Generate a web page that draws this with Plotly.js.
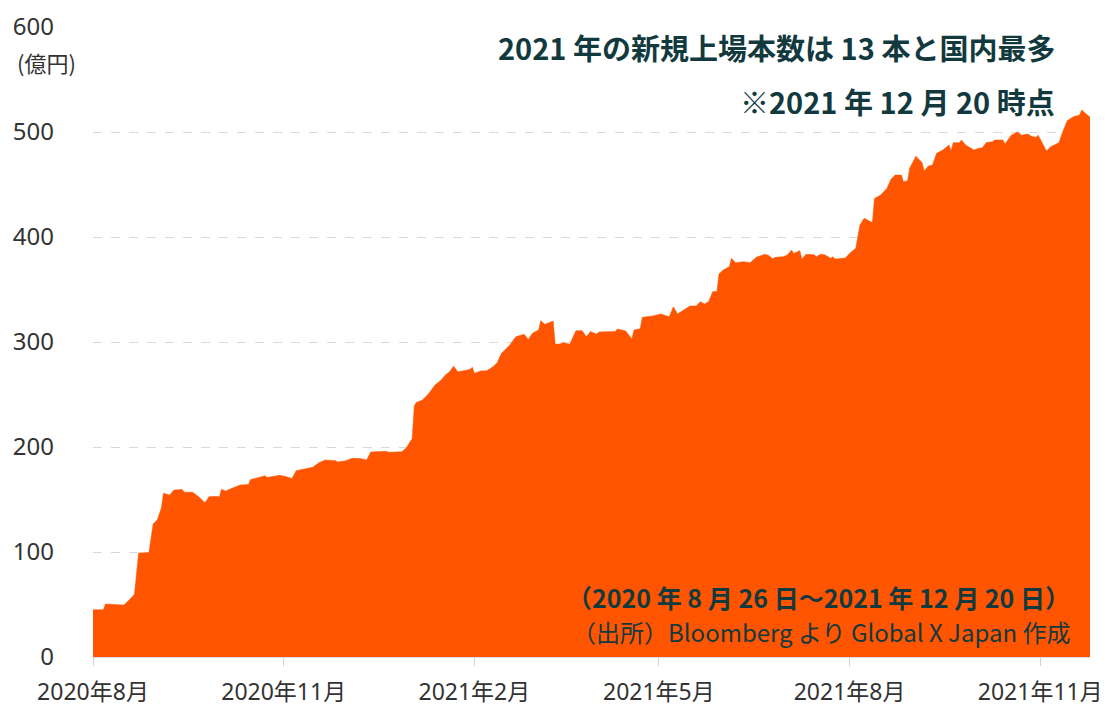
<!DOCTYPE html>
<html>
<head>
<meta charset="utf-8">
<script src="https://cdn.plot.ly/plotly-3.0.1.min.js"></script>
<style>
html,body{margin:0;padding:0;background:#fff;}
#chart{width:1110px;height:708px;}
</style>
</head>
<body>
<div id="chart"></div>
<script>
// 日付（2020年8月26日～2021年12月20日）
var dates = [
 '2020-08-26','2020-08-31','2020-09-01','2020-09-10','2020-09-14','2020-09-15','2020-09-17','2020-09-22',
 '2020-09-24','2020-09-26','2020-09-28','2020-09-29','2020-10-02','2020-10-04','2020-10-08','2020-10-09',
 '2020-10-13','2020-10-16','2020-10-19','2020-10-21','2020-10-24','2020-10-26','2020-10-27','2020-10-29',
 '2020-11-01','2020-11-05','2020-11-09','2020-11-10','2020-11-14','2020-11-17','2020-11-18','2020-11-24',
 '2020-11-27','2020-11-30','2020-12-02','2020-12-05','2020-12-09','2020-12-10','2020-12-13','2020-12-16',
 '2020-12-21','2020-12-22','2020-12-26','2020-12-29','2021-01-02','2021-01-05','2021-01-07','2021-01-14',
 '2021-01-16','2021-01-22','2021-01-24','2021-01-26','2021-01-27','2021-01-28','2021-01-29','2021-02-01',
 '2021-02-04','2021-02-07','2021-02-10','2021-02-12','2021-02-14','2021-02-16','2021-02-18','2021-02-21',
 '2021-02-24','2021-02-25','2021-02-26','2021-03-01','2021-03-04','2021-03-07','2021-03-09','2021-03-11',
 '2021-03-13','2021-03-15','2021-03-18','2021-03-22','2021-03-24','2021-03-26','2021-03-29','2021-03-30',
 '2021-04-01','2021-04-05','2021-04-06','2021-04-08','2021-04-10','2021-04-13','2021-04-16','2021-04-19',
 '2021-04-21','2021-04-23','2021-04-26','2021-04-27','2021-05-05','2021-05-06','2021-05-10','2021-05-13',
 '2021-05-14','2021-05-17','2021-05-18','2021-05-23','2021-05-27','2021-05-31','2021-06-02','2021-06-04',
 '2021-06-06','2021-06-09','2021-06-10','2021-06-13','2021-06-15','2021-06-17','2021-06-19','2021-06-21',
 '2021-06-23','2021-06-24','2021-06-26','2021-06-29','2021-06-30','2021-07-02','2021-07-06','2021-07-09',
 '2021-07-12','2021-07-16','2021-07-18','2021-07-20','2021-07-21','2021-07-25','2021-07-27','2021-07-29',
 '2021-07-30','2021-08-02','2021-08-03','2021-08-05','2021-08-09','2021-08-10','2021-08-12','2021-08-14',
 '2021-08-17','2021-08-18','2021-08-19','2021-08-24','2021-08-26','2021-08-29','2021-08-31','2021-09-02',
 '2021-09-06','2021-09-07','2021-09-10','2021-09-13','2021-09-15','2021-09-17','2021-09-20','2021-09-21',
 '2021-09-23','2021-09-24','2021-09-27','2021-09-30','2021-10-01','2021-10-03','2021-10-05','2021-10-07',
 '2021-10-10','2021-10-13','2021-10-14','2021-10-15','2021-10-18','2021-10-19','2021-10-21','2021-10-25',
 '2021-10-27','2021-10-29','2021-10-31','2021-11-03','2021-11-04','2021-11-08','2021-11-09','2021-11-12',
 '2021-11-15','2021-11-17','2021-11-20','2021-11-22','2021-11-24','2021-11-25','2021-11-27','2021-11-29',
 '2021-12-01','2021-12-03','2021-12-05','2021-12-07','2021-12-09','2021-12-12','2021-12-15','2021-12-16',
 '2021-12-18','2021-12-20'
];
// 純資産総額（億円）
var netAssets = [
 45,45,50.5,49.5,57.5,60,99,99.5,
 126.7,130.5,142,156,154.3,159,159.5,157,
 157,152.7,147,152.7,153,152.7,159.7,158,
 160.6,163.8,164.4,169,171,172.7,171,173,
 172,170,177.5,178.7,180.7,180.7,185,187.6,
 187,185.7,187,189.2,189,187.6,195.2,195.9,
 195,195.5,198.7,205,208,239.4,242.5,244.8,
 251,259,263.8,268.6,271.7,277,271.7,272.7,
 274,276,270.2,272.4,272.7,276.5,280.3,289,
 293,297,305,307.3,302.5,308.3,311.4,320.3,
 316.8,320,298,298,299.4,297.8,310.8,310.8,
 305,310,307.3,309.5,310,312.4,310.5,302.9,
 311.4,312.7,323.5,324.8,326.7,324,333.6,326.7,
 329.2,333,334.3,334.3,338.4,336.2,338.4,348,
 348,364.8,368.6,371.7,379.7,375.5,376.5,375.5,
 380.6,383.5,382.5,379,380.6,381.3,382.9,387.6,
 384.4,387,379,383.5,383,381.3,383.5,383,
 379.7,381.3,379,380,384.4,389.2,411.4,417.8,
 413.7,436.7,440,446.3,454.9,459,459,452.7,
 453.6,465.4,477,470.8,462.9,467.6,468.6,479.7,
 482.9,487.6,482.2,489.8,489.8,492.4,487.6,482.9,
 484.4,485,490,490.8,492.4,492.4,488.6,497,
 500,497,498,495.6,495,497,489.8,481.9,
 486,487.6,489.8,501,510.8,514.6,516.2,521,
 517.8,514
];
var tickDates = ['2020-08-26','2020-11-26','2021-02-26','2021-05-26','2021-08-26','2021-11-26'];
var tickLabels = ['2020年8月','2020年11月','2021年2月','2021年5月','2021年8月','2021年11月'];
var yTicks = [0,100,200,300,400,500,600];

var titleText = '2021 年の新規上場本数は 13 本と国内最多';
var asOfText = '※2021 年 12 月 20 時点';
var periodText = '（2020 年 8 月 26 日～2021 年 12 月 20 日）';
var sourceText = '（出所）Bloomberg より Global X Japan 作成';
var unitText = '(億円)';

var navy = '#123a3e';
var boldFont = '"Noto Sans CJK JP", "Noto Sans", sans-serif';
var baseFont = '"Noto Sans CJK JP", "Noto Sans", sans-serif';
var tickFamily = '"Noto Sans", "Noto Sans CJK JP", sans-serif';

var trace = {
  type: 'scatter',
  mode: 'lines',
  x: dates,
  y: netAssets,
  fill: 'tozeroy',
  fillcolor: '#ff5500',
  line: {color: '#ff5500', width: 0.5},
  hoverinfo: 'x+y'
};

var layout = {
  width: 1110,
  height: 708,
  margin: {l: 93, r: 20, t: 27, b: 51},
  paper_bgcolor: '#ffffff',
  plot_bgcolor: '#ffffff',
  showlegend: false,
  font: {family: baseFont, color: '#333333'},
  xaxis: {
    type: 'date',
    range: ['2020-08-26', '2021-12-20'],
    tickmode: 'array',
    tickvals: tickDates,
    ticktext: tickLabels,
    ticks: 'outside',
    ticklen: 8,
    tickcolor: '#d0d0d0',
    tickwidth: 1,
    showgrid: false,
    showline: true,
    linecolor: '#d9d9d9',
    linewidth: 1,
    zeroline: false,
    ticklabelstandoff: 6,
    tickfont: {size: 23, color: '#333333', family: tickFamily}
  },
  yaxis: {
    range: [0, 600],
    tickmode: 'array',
    tickvals: yTicks,
    ticks: '',
    showgrid: true,
    gridcolor: '#d9d9d9',
    griddash: 'dash',
    gridwidth: 1,
    showline: false,
    zeroline: false,
    ticklabelstandoff: 38,
    tickfont: {size: 24, color: '#333333', family: tickFamily}
  },
  annotations: [
    {text: unitText, xref: 'paper', yref: 'paper', x: -0.0471, y: 0.944, xanchor: 'center', yanchor: 'middle',
     showarrow: false, font: {size: 22, color: '#333333', family: baseFont}},
    {text: '<b>' + titleText + '</b>', xref: 'paper', yref: 'paper', x: 0.9669, y: 0.968, xanchor: 'right', yanchor: 'middle',
     showarrow: false, font: {size: 29, color: navy, family: boldFont}},
    {text: '<b>' + asOfText + '</b>', xref: 'paper', yref: 'paper', x: 0.9669, y: 0.8825, xanchor: 'right', yanchor: 'middle',
     showarrow: false, font: {size: 29, color: navy, family: boldFont}},
    {text: '<b>' + periodText + '</b>', xref: 'paper', yref: 'paper', x: 0.982, y: 0.0952, xanchor: 'right', yanchor: 'middle',
     showarrow: false, font: {size: 25, color: navy, family: boldFont}},
    {text: sourceText, xref: 'paper', yref: 'paper', x: 0.982, y: 0.0397, xanchor: 'right', yanchor: 'middle',
     showarrow: false, font: {size: 24, color: navy, family: baseFont}}
  ]
};

Plotly.newPlot('chart', [trace], layout, {displayModeBar: false, staticPlot: true});
</script>
</body>
</html>
